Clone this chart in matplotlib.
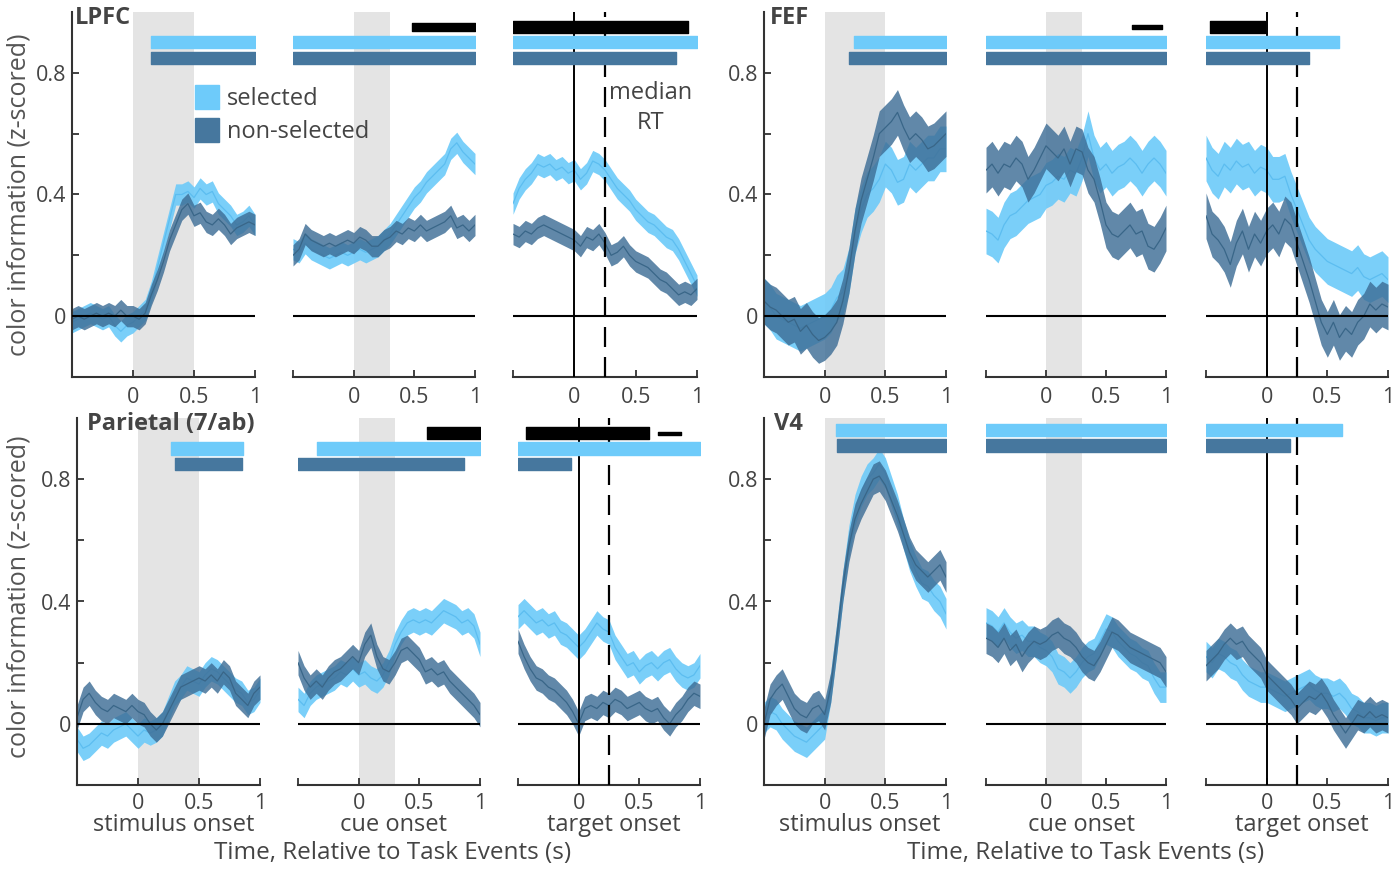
import numpy as np
import matplotlib.pyplot as plt
from matplotlib.patches import Patch

plt.rcParams['font.family'] = ['Open Sans', 'DejaVu Sans']

# time grid (s), same for every panel
t = np.round(np.arange(-0.5, 1.001, 0.05), 2)

# ---------------- LPFC ----------------
lpfc_stim_sel = [-0.02, -0.01, 0.0, 0.01, 0.0, -0.01, 0.0, -0.03, -0.05, -0.03, -0.02,
                 0.0, 0.02, 0.08, 0.16, 0.24, 0.32, 0.40, 0.40, 0.41, 0.39,
                 0.42, 0.40, 0.41, 0.37, 0.35, 0.33, 0.30, 0.31, 0.33, 0.30]
lpfc_stim_non = [-0.01, 0.0, -0.01, 0.0, 0.01, 0.0, 0.01, 0.0, 0.02, 0.0, 0.0,
                 -0.01, 0.01, 0.07, 0.12, 0.18, 0.25, 0.30, 0.35, 0.37, 0.33,
                 0.34, 0.31, 0.30, 0.32, 0.30, 0.27, 0.29, 0.30, 0.31, 0.30]
lpfc_cue_sel = [0.22, 0.21, 0.24, 0.22, 0.21, 0.20, 0.19, 0.20, 0.21, 0.20, 0.21,
                0.22, 0.21, 0.22, 0.23, 0.25, 0.27, 0.30, 0.33, 0.36, 0.39,
                0.41, 0.44, 0.46, 0.48, 0.50, 0.55, 0.57, 0.54, 0.52, 0.50]
lpfc_cue_non = [0.20, 0.22, 0.27, 0.25, 0.24, 0.23, 0.24, 0.23, 0.24, 0.25, 0.24,
                0.26, 0.25, 0.23, 0.23, 0.25, 0.26, 0.28, 0.27, 0.29, 0.28,
                0.30, 0.28, 0.29, 0.30, 0.31, 0.33, 0.29, 0.30, 0.28, 0.30]
lpfc_tgt_sel = [0.37, 0.42, 0.45, 0.47, 0.50, 0.49, 0.50, 0.48, 0.49, 0.47, 0.48,
                0.45, 0.47, 0.51, 0.50, 0.48, 0.45, 0.42, 0.40, 0.38, 0.35,
                0.33, 0.31, 0.30, 0.28, 0.26, 0.25, 0.22, 0.18, 0.14, 0.10]
lpfc_tgt_non = [0.27, 0.26, 0.28, 0.27, 0.29, 0.30, 0.29, 0.28, 0.27, 0.26, 0.25,
                0.23, 0.26, 0.25, 0.27, 0.24, 0.20, 0.21, 0.23, 0.20, 0.18,
                0.17, 0.16, 0.14, 0.12, 0.11, 0.09, 0.07, 0.08, 0.07, 0.09]

# ---------------- FEF ----------------
fef_stim_sel = [0.05, 0.03, 0.0, -0.01, -0.02, -0.03, -0.04, -0.03, -0.02, -0.01, 0.0,
                0.02, 0.06, 0.08, 0.15, 0.28, 0.35, 0.40, 0.42, 0.45, 0.50,
                0.48, 0.44, 0.45, 0.50, 0.48, 0.50, 0.52, 0.52, 0.55, 0.55]
fef_stim_non = [0.05, 0.03, 0.02, 0.0, -0.02, -0.01, -0.05, -0.03, -0.06, -0.08, -0.07,
                -0.05, -0.02, 0.05, 0.15, 0.28, 0.38, 0.45, 0.52, 0.60, 0.62,
                0.64, 0.67, 0.62, 0.58, 0.60, 0.58, 0.55, 0.56, 0.58, 0.60]
fef_cue_sel = [0.28, 0.27, 0.25, 0.30, 0.33, 0.34, 0.36, 0.38, 0.39, 0.40, 0.43,
               0.44, 0.46, 0.45, 0.48, 0.47, 0.52, 0.60, 0.52, 0.48, 0.50,
               0.47, 0.49, 0.50, 0.52, 0.50, 0.47, 0.50, 0.52, 0.50, 0.47]
fef_cue_non = [0.48, 0.50, 0.47, 0.50, 0.49, 0.52, 0.50, 0.45, 0.48, 0.52, 0.56,
               0.54, 0.52, 0.55, 0.50, 0.55, 0.54, 0.48, 0.45, 0.38, 0.30,
               0.27, 0.26, 0.28, 0.30, 0.27, 0.28, 0.23, 0.22, 0.25, 0.29]
fef_tgt_sel = [0.52, 0.48, 0.46, 0.50, 0.48, 0.51, 0.49, 0.50, 0.47, 0.49, 0.48,
               0.45, 0.45, 0.46, 0.40, 0.35, 0.30, 0.25, 0.22, 0.20, 0.18,
               0.17, 0.16, 0.15, 0.14, 0.16, 0.13, 0.12, 0.13, 0.14, 0.12]
fef_tgt_non = [0.33, 0.27, 0.25, 0.22, 0.17, 0.24, 0.28, 0.22, 0.27, 0.24, 0.28,
               0.30, 0.27, 0.32, 0.30, 0.24, 0.18, 0.12, 0.05, -0.02, -0.06,
               -0.02, -0.07, -0.04, -0.06, -0.02, 0.0, 0.04, 0.02, 0.04, 0.03]

# ---------------- Parietal ----------------
par_stim_sel = [-0.05, -0.08, -0.07, -0.05, -0.03, -0.04, -0.02, -0.01, 0.0, -0.02, -0.04,
                -0.02, -0.03, -0.02, 0.0, 0.05, 0.10, 0.12, 0.15, 0.14, 0.13,
                0.16, 0.18, 0.17, 0.15, 0.13, 0.11, 0.10, 0.07, 0.08, 0.11]
par_stim_non = [0.02, 0.08, 0.10, 0.07, 0.05, 0.04, 0.06, 0.05, 0.04, 0.06, 0.04,
                0.03, 0.0, -0.02, 0.0, 0.04, 0.08, 0.12, 0.13, 0.14, 0.15,
                0.14, 0.16, 0.14, 0.17, 0.15, 0.10, 0.08, 0.06, 0.10, 0.12]
par_cue_sel = [0.08, 0.06, 0.10, 0.12, 0.13, 0.14, 0.15, 0.17, 0.16, 0.18, 0.16,
               0.17, 0.15, 0.14, 0.16, 0.20, 0.26, 0.30, 0.33, 0.34, 0.33,
               0.34, 0.33, 0.35, 0.37, 0.36, 0.35, 0.33, 0.34, 0.32, 0.26]
par_cue_non = [0.20, 0.15, 0.12, 0.14, 0.12, 0.15, 0.17, 0.18, 0.20, 0.22, 0.20,
               0.26, 0.29, 0.22, 0.18, 0.17, 0.20, 0.24, 0.25, 0.23, 0.21,
               0.17, 0.18, 0.16, 0.17, 0.14, 0.12, 0.10, 0.08, 0.06, 0.03]
par_tgt_sel = [0.35, 0.37, 0.35, 0.33, 0.34, 0.32, 0.33, 0.30, 0.29, 0.27, 0.25,
               0.27, 0.30, 0.33, 0.31, 0.30, 0.25, 0.22, 0.19, 0.20, 0.17,
               0.19, 0.20, 0.18, 0.20, 0.21, 0.18, 0.16, 0.15, 0.16, 0.19]
par_tgt_non = [0.27, 0.22, 0.18, 0.15, 0.14, 0.12, 0.11, 0.09, 0.07, 0.04, 0.0,
               0.05, 0.06, 0.05, 0.07, 0.06, 0.08, 0.07, 0.05, 0.06, 0.07,
               0.05, 0.04, 0.05, 0.02, 0.0, 0.03, 0.05, 0.08, 0.10, 0.09]

# ---------------- V4 ----------------
v4_stim_sel = [0.02, 0.04, 0.03, 0.0, -0.02, -0.04, -0.05, -0.06, -0.04, -0.02, 0.0,
               0.12, 0.28, 0.45, 0.60, 0.70, 0.76, 0.80, 0.82, 0.85, 0.82,
               0.76, 0.70, 0.62, 0.55, 0.50, 0.46, 0.45, 0.42, 0.40, 0.36]
v4_stim_non = [0.0, 0.08, 0.11, 0.13, 0.09, 0.05, 0.03, 0.02, 0.05, 0.06, 0.03,
               0.12, 0.28, 0.45, 0.58, 0.67, 0.72, 0.76, 0.80, 0.81, 0.78,
               0.73, 0.68, 0.62, 0.56, 0.52, 0.50, 0.48, 0.50, 0.52, 0.48]
v4_cue_sel = [0.33, 0.32, 0.30, 0.33, 0.30, 0.28, 0.29, 0.27, 0.27, 0.25, 0.24,
              0.22, 0.18, 0.17, 0.15, 0.17, 0.20, 0.22, 0.23, 0.27, 0.31,
              0.30, 0.27, 0.25, 0.23, 0.22, 0.20, 0.19, 0.15, 0.12, 0.12]
v4_cue_non = [0.28, 0.27, 0.25, 0.28, 0.24, 0.26, 0.22, 0.25, 0.27, 0.26, 0.27,
              0.29, 0.30, 0.28, 0.27, 0.25, 0.22, 0.20, 0.19, 0.22, 0.26,
              0.30, 0.29, 0.27, 0.25, 0.24, 0.23, 0.22, 0.21, 0.20, 0.17]
v4_tgt_sel = [0.22, 0.20, 0.23, 0.22, 0.20, 0.19, 0.16, 0.14, 0.13, 0.12, 0.12,
              0.11, 0.10, 0.09, 0.10, 0.11, 0.12, 0.13, 0.11, 0.10, 0.10,
              0.09, 0.10, 0.08, 0.05, 0.04, 0.02, 0.02, 0.01, 0.02, 0.02]
v4_tgt_non = [0.19, 0.21, 0.23, 0.26, 0.28, 0.26, 0.27, 0.24, 0.22, 0.20, 0.16,
              0.14, 0.12, 0.10, 0.08, 0.05, 0.07, 0.09, 0.08, 0.10, 0.07,
              0.03, 0.0, -0.03, 0.0, 0.03, 0.02, 0.04, 0.02, 0.03, 0.02]

areas = ['LPFC', 'FEF', 'Parietal (7/ab)', 'V4']
events = ['stimulus onset', 'cue onset', 'target onset']

curves = {
    'LPFC': [(lpfc_stim_sel, lpfc_stim_non), (lpfc_cue_sel, lpfc_cue_non), (lpfc_tgt_sel, lpfc_tgt_non)],
    'FEF': [(fef_stim_sel, fef_stim_non), (fef_cue_sel, fef_cue_non), (fef_tgt_sel, fef_tgt_non)],
    'Parietal (7/ab)': [(par_stim_sel, par_stim_non), (par_cue_sel, par_cue_non), (par_tgt_sel, par_tgt_non)],
    'V4': [(v4_stim_sel, v4_stim_non), (v4_cue_sel, v4_cue_non), (v4_tgt_sel, v4_tgt_non)],
}
# standard error of the mean for each area
sems = {'LPFC': 0.035, 'FEF': 0.075, 'Parietal (7/ab)': 0.04, 'V4': 0.05}

# significance periods (start, end) per panel
sel_sig = {
    'LPFC': [[(0.15, 1.0)], [(-0.5, 1.0)], [(-0.5, 1.0)]],
    'FEF': [[(0.24, 1.0)], [(-0.5, 1.0)], [(-0.5, 0.6)]],
    'Parietal (7/ab)': [[(0.27, 0.86)], [(-0.34, 1.0)], [(-0.5, 1.0)]],
    'V4': [[(0.09, 1.0)], [(-0.5, 1.0)], [(-0.5, 0.62)]],
}
non_sig = {
    'LPFC': [[(0.15, 1.0)], [(-0.5, 1.0)], [(-0.5, 0.83)]],
    'FEF': [[(0.2, 1.0)], [(-0.5, 1.0)], [(-0.5, 0.35)]],
    'Parietal (7/ab)': [[(0.3, 0.85)], [(-0.5, 0.87)], [(-0.5, -0.06)]],
    'V4': [[(0.1, 1.0)], [(-0.5, 1.0)], [(-0.5, 0.19)]],
}
diff_sig = {
    'LPFC': [[], [(0.48, 1.0)], [(-0.5, 0.93)]],
    'FEF': [[], [(0.72, 0.97)], [(-0.47, -0.01)]],
    'Parietal (7/ab)': [[], [(0.56, 1.0)], [(-0.43, 0.58), (0.65, 0.84)]],
    'V4': [[], [], []],
}
stim_window = (0, 0.5)
cue_window = (0, 0.3)
median_rt = 0.25

# ---------------- style / layout ----------------
SEL_BAND, SEL_LINE, SEL_BAR = '#6ccaf9', '#5cbdf0', '#6ecbfa'
NON_BAND, NON_LINE, NON_BAR = '#3e6e96', '#396688', '#46779e'
GRAY = '#e4e4e4'
TXT = '#444444'
W, H = 1392, 872

rows = {'LPFC': (12, 377), 'FEF': (12, 377), 'Parietal (7/ab)': (418, 785), 'V4': (418, 785)}
cols = {
    'LPFC': [(72, 255), (293, 475), (513, 697)],
    'FEF': [(764, 946), (986, 1166), (1206, 1388)],
    'Parietal (7/ab)': [(77, 260), (298, 480), (518, 700)],
    'V4': [(764, 946), (986, 1166), (1206, 1388)],
}
title_dx = {'LPFC': 3, 'FEF': 6, 'Parietal (7/ab)': 10, 'V4': 10}
bar_y = {'LPFC': (0.95, 0.90, 0.85), 'FEF': (0.95, 0.90, 0.85),
         'Parietal (7/ab)': (0.95, 0.90, 0.85), 'V4': (0.95, 0.96, 0.91)}
diff_h = {'LPFC': [[], [0.026], [0.04]], 'FEF': [[], [0.014], [0.04]],
          'Parietal (7/ab)': [[], [0.038], [0.038, 0.01]], 'V4': [[], [], []]}

fig = plt.figure(figsize=(W / 100, H / 100), dpi=100)

for area in areas:
    ytop, ybot = rows[area]
    bottom_row = area in ('Parietal (7/ab)', 'V4')
    for j, (x0, x1) in enumerate(cols[area]):
        ax = fig.add_axes([x0 / W, 1 - ybot / H, (x1 - x0) / W, (ybot - ytop) / H])
        ax.patch.set_alpha(0)
        ax.set_xlim(-0.5, 1.0)
        ax.set_ylim(-0.2, 1.0)
        for s in ['top', 'right']:
            ax.spines[s].set_visible(False)
        ax.spines['bottom'].set_color('#333333')
        ax.spines['bottom'].set_linewidth(1.5)
        ax.set_xticks([-0.5, 0, 0.5, 1])
        ax.set_xticklabels(['', '0', '0.5', '1'])
        ax.tick_params(axis='x', direction='in', length=5, width=1.3, color='#333333',
                       labelsize=15.5, labelcolor=TXT, pad=6 if bottom_row else 7)
        if j == 0:
            ax.spines['left'].set_color('#333333')
            ax.spines['left'].set_linewidth(1.5)
            ax.set_yticks([0, 0.2, 0.4, 0.6, 0.8])
            ax.set_yticklabels(['0', '', '0.4', '', '0.8'])
            ax.tick_params(axis='y', direction='in', length=5, width=1.3, color='#333333',
                           labelsize=15.5, labelcolor=TXT, pad=4)
        else:
            ax.spines['left'].set_visible(False)
            ax.set_yticks([])

        if j == 0:
            ax.axvspan(*stim_window, color=GRAY, lw=0, zorder=0)
        elif j == 1:
            ax.axvspan(*cue_window, color=GRAY, lw=0, zorder=0)

        sel, non = curves[area][j]
        sel = np.array(sel)
        non = np.array(non)
        sem = sems[area]
        ax.fill_between(t, sel - sem, sel + sem, color=SEL_BAND, alpha=0.9, lw=0, zorder=1)
        ax.plot(t, sel, color=SEL_LINE, lw=0.9, zorder=1.1)
        ax.fill_between(t, non - sem, non + sem, color=NON_BAND, alpha=0.82, lw=0, zorder=1.2)
        ax.plot(t, non, color=NON_LINE, lw=0.9, zorder=1.3)

        ax.axhline(0, color='k', lw=1.5, zorder=3)
        if j == 2:
            ax.axvline(0, color='k', lw=1.4, zorder=3)
            ax.axvline(median_rt, color='k', lw=1.6, dashes=(9, 4.5), zorder=3)

        yd, ys, yn = bar_y[area]
        for (a, b) in sel_sig[area][j]:
            ax.broken_barh([(a, b - a)], (ys - 0.02, 0.04), color=SEL_BAR, zorder=4)
        for (a, b) in non_sig[area][j]:
            ax.broken_barh([(a, b - a)], (yn - 0.02, 0.04), color=NON_BAR, zorder=4)
        for (a, b), h in zip(diff_sig[area][j], diff_h[area][j]):
            ax.broken_barh([(a, b - a)], (yd - h / 2, h), color='black', zorder=4)

        if j == 0:
            fig.text((x0 + title_dx[area]) / W, 1 - (ytop + 6) / H, area, fontsize=17,
                     fontweight='bold', color=TXT, va='center', ha='left')
        if area == 'LPFC' and j == 2:
            ax.text(0.62, 0.685, 'median\nRT', fontsize=17, color=TXT, ha='center',
                    va='center', linespacing=1.35)
        if bottom_row:
            fig.text((x0 + x1) / 2 / W + 5 / W, 1 - 825 / H, events[j], fontsize=17,
                     color=TXT, ha='center', va='center')

# legend on the figure so that it sits above the neighbouring panel
handles = [Patch(color=SEL_BAR), Patch(color=NON_BAR)]
fig.legend(handles, ['selected', 'non-selected'], loc='upper left',
           bbox_to_anchor=(195 / W, 1 - 85 / H), frameon=False, fontsize=17,
           handlelength=1.0, handleheight=1.2, handletextpad=0.35,
           labelspacing=0.3, borderpad=0, borderaxespad=0, labelcolor=TXT)

# y labels
for yc in (195, 597):
    fig.text(19 / W, 1 - yc / H, 'color information (z-scored)', rotation=90,
             fontsize=18, color='#555555', ha='center', va='center')
# x labels
for xc in (393, 1086):
    fig.text(xc / W, 1 - 853 / H, 'Time, Relative to Task Events (s)', fontsize=17.5,
             color=TXT, ha='center', va='center')

fig.savefig('out.png', dpi=100)
